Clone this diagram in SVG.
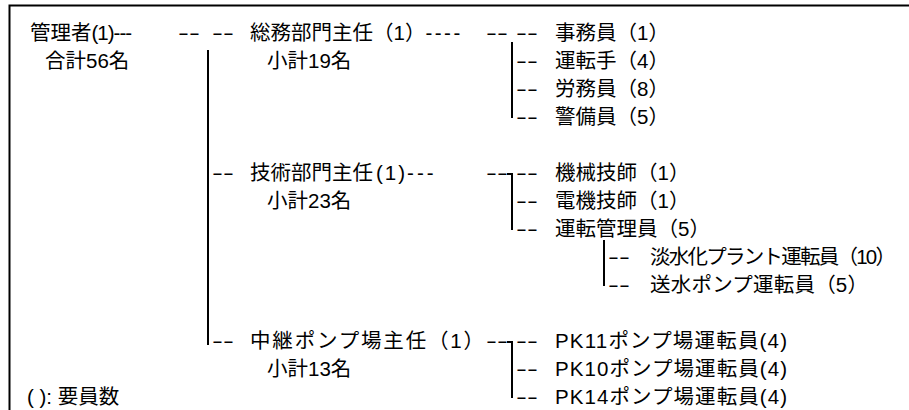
<svg xmlns="http://www.w3.org/2000/svg" width="909" height="410" viewBox="0 0 909 410">
<style>
text{font-family:"Liberation Sans","Noto Sans CJK JP",sans-serif;font-size:20.5px;fill:#000}
.ln{stroke:#000;stroke-width:2;fill:none}
</style>
<rect width="909" height="410" fill="#fff"/>
<path class="ln" d="M909,5.5H9.5V410"/>
<g id="root">
<text x="30" y="40">管理者<tspan letter-spacing="-1">(1)---</tspan></text>
<text x="45" y="68">合計56名</text>
</g>
<g id="soumu">
<text x="250" y="40">総務部門主任（1）<tspan letter-spacing="2.5">----</tspan></text>
<text x="267" y="68">小計19名</text>
</g>
<g id="jimu"><text x="555" y="40">事務員（1）</text></g>
<g id="unten"><text x="555" y="68">運転手（4）</text></g>
<g id="roumu"><text x="555" y="96">労務員（8）</text></g>
<g id="keibi"><text x="555" y="124">警備員（5）</text></g>
<g id="gijutsu">
<text x="250" y="180">技術部門主任<tspan dx="3" letter-spacing="2">(1)</tspan><tspan letter-spacing="3">---</tspan></text>
<text x="267" y="208">小計23名</text>
</g>
<g id="kikai"><text x="555" y="180">機械技師（1）</text></g>
<g id="denki"><text x="555" y="208">電機技師（1）</text></g>
<g id="kanri"><text x="555" y="236">運転管理員（5）</text></g>
<g id="tansui"><text x="650" y="264" textLength="246" lengthAdjust="spacing">淡水化プラント運転員（10）</text></g>
<g id="sousui"><text x="650" y="292" textLength="218" lengthAdjust="spacing">送水ポンプ運転員（5）</text></g>
<g id="chukei">
<text x="250" y="348" textLength="234" lengthAdjust="spacing">中継ポンプ場主任（1）</text>
<text x="267" y="376">小計13名</text>
</g>
<g id="pk11"><text x="555" y="348" textLength="232" lengthAdjust="spacing">PK11ポンプ場運転員(4)</text></g>
<g id="pk10"><text x="555" y="376" textLength="232" lengthAdjust="spacing">PK10ポンプ場運転員(4)</text></g>
<g id="pk14"><text x="555" y="404" textLength="232" lengthAdjust="spacing">PK14ポンプ場運転員(4)</text></g>
<g id="legend"><text x="27" y="404">( ): 要員数</text></g>
<g id="connectors">
<text transform="translate(178,40) scale(1.6,1)">--</text>
<text transform="translate(212,40) scale(1.6,1)">--</text>
<text transform="translate(212,180) scale(1.6,1)">--</text>
<text transform="translate(212,348) scale(1.6,1)">--</text>
<text transform="translate(486,40) scale(1.6,1)">--</text>
<text transform="translate(516,40) scale(1.6,1)">--</text>
<text transform="translate(516,68) scale(1.6,1)">--</text>
<text transform="translate(516,96) scale(1.6,1)">--</text>
<text transform="translate(516,124) scale(1.6,1)">--</text>
<text transform="translate(486,180) scale(1.6,1)">--</text>
<text transform="translate(516,180) scale(1.6,1)">--</text>
<text transform="translate(516,208) scale(1.6,1)">--</text>
<text transform="translate(516,236) scale(1.6,1)">--</text>
<text transform="translate(608,264) scale(1.6,1)">--</text>
<text transform="translate(608,292) scale(1.6,1)">--</text>
<text transform="translate(486,348) scale(1.6,1)">--</text>
<text transform="translate(516,348) scale(1.6,1)">--</text>
<text transform="translate(516,376) scale(1.6,1)">--</text>
<text transform="translate(516,404) scale(1.6,1)">--</text>
<path class="ln" d="M208,50V345"/>
<path class="ln" d="M512,42V118"/>
<path class="ln" d="M507,174H512V230"/>
<path class="ln" d="M604,240V286"/>
<path class="ln" d="M507,342H512V398"/>
</g>
</svg>
